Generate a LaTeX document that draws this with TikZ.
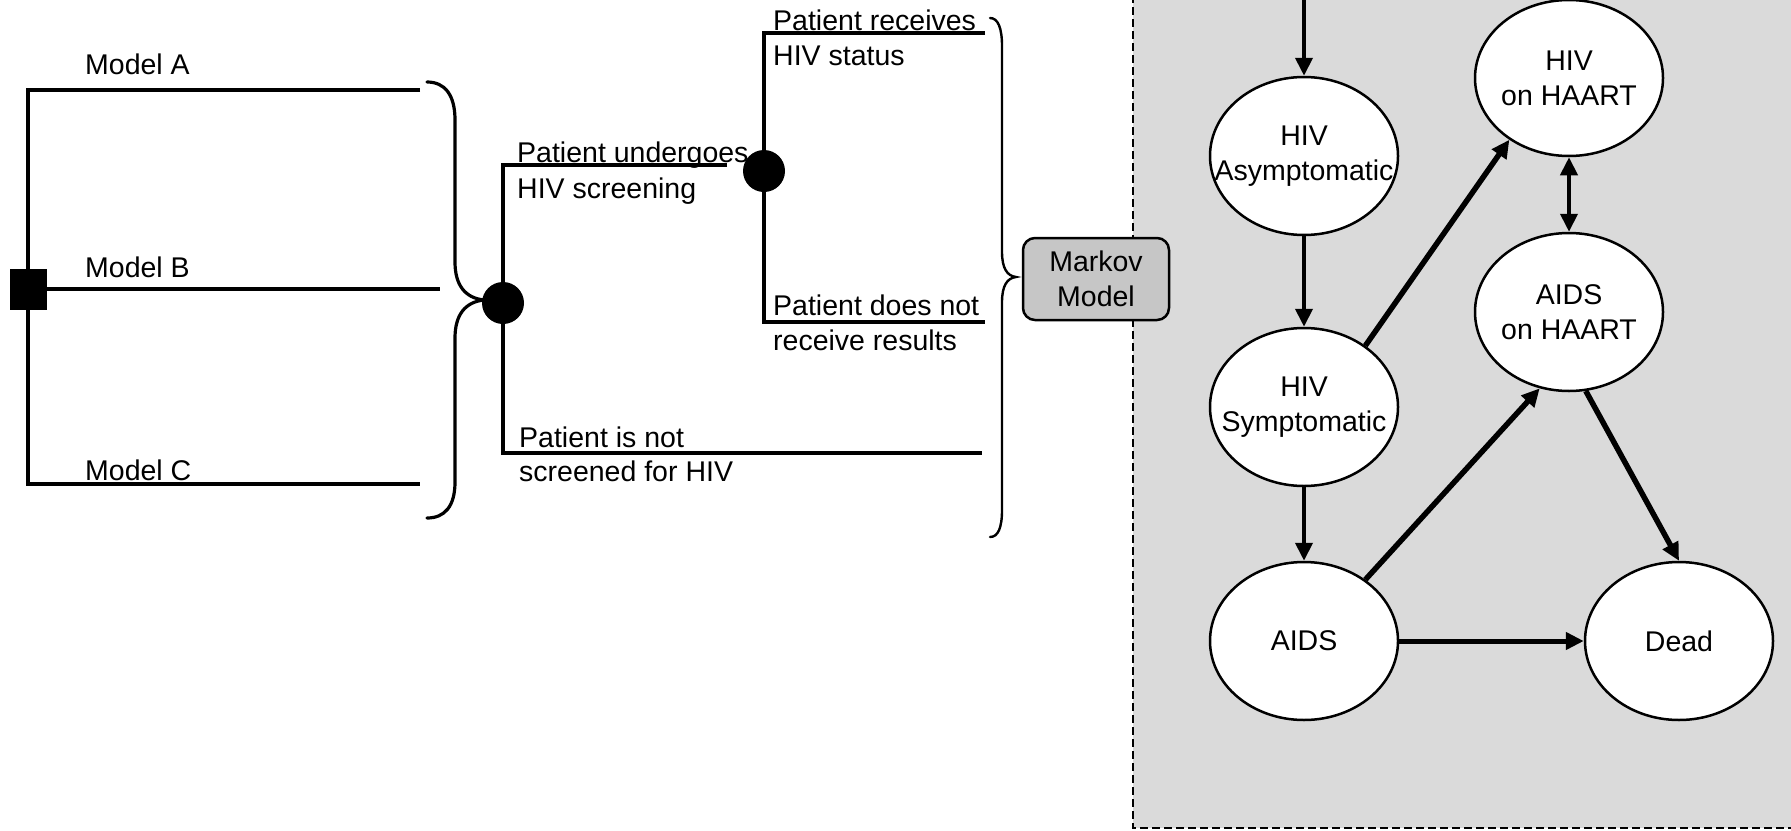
\documentclass[tikz,border=0pt]{standalone}
\usepackage{fontspec}
\setmainfont{Liberation Sans}
\usetikzlibrary{shapes.geometric,arrows.meta}
\definecolor{bggray}{RGB}{218,218,218}
\definecolor{boxgray}{RGB}{198,198,198}
\begin{document}
\begin{tikzpicture}[x=1pt,y=-1pt,
  txt/.style={font=\fontsize{28.5}{35}\selectfont, inner sep=0pt, anchor=base west},
  ctxt/.style={font=\fontsize{28.5}{35}\selectfont, inner sep=0pt, align=center},
  treeline/.style={line width=4pt},
  chance/.style={circle, fill=black, minimum size=42pt, inner sep=0pt},
  decision/.style={rectangle, fill=black, minimum width=37pt, minimum height=41pt, inner sep=0pt},
  bracea/.style={line width=3.2pt, line cap=round},
  braceb/.style={line width=2.4pt, line cap=round},
  mstate/.style={ellipse, draw, fill=white, line width=2.5pt, minimum width=188pt, minimum height=158pt, inner sep=0pt},
  markovbox/.style={rectangle, rounded corners=12pt, draw, fill=boxgray, line width=2.5pt, minimum width=146pt, minimum height=82pt, inner sep=0pt, align=center, font=\fontsize{28.5}{35}\selectfont},
  arr/.style={line width=4pt, -{Triangle[length=18pt,width=17pt]}},
  darr/.style={line width=4pt, {Triangle[length=18pt,width=17pt]}-{Triangle[length=18pt,width=17pt]}},
  boxline/.style={line width=2pt, dash pattern=on 8pt off 4pt}
]
\useasboundingbox (0,0) rectangle (1791,830);

% Markov region background
\fill[bggray] (1133,0) rectangle (1791,828);
\draw[boxline] (1133,-5) -- (1133,828) -- (1796,828);

% ---------- decision tree ----------
\node[decision] (dec) at (28,289) {};
\node[chance] (c1) at (503,303) {};
\node[chance] (c2) at (764,171) {};

\coordinate (aEnd) at (420,90);
\coordinate (bEnd) at (440,289);
\coordinate (cEnd) at (420,484);
\coordinate (uEnd) at (727,165);
\coordinate (nEnd) at (982,453);
\coordinate (rEnd) at (985,33);
\coordinate (dEnd) at (985,322);

\draw[treeline] (aEnd) -| (dec.center) |- (cEnd);
\draw[treeline] (dec) -- (bEnd);
\draw[treeline] (uEnd) -| (c1.center) |- (nEnd);
\draw[treeline] (rEnd) -| (c2.center) |- (dEnd);

\node[txt] (tA) at (85,74) {Model A};
\node[txt] (tB) at (85,277) {Model B};
\node[txt] (tC) at (85,480) {Model C};
\node[txt] (tU1) at (517,162) {Patient undergoes};
\node[txt] (tU2) at (517,198) {HIV screening};
\node[txt] (tR1) at (773,30) {Patient receives};
\node[txt] (tR2) at (773,65) {HIV status};
\node[txt] (tD1) at (773,315) {Patient does not};
\node[txt] (tD2) at (773,350) {receive results};
\node[txt] (tN1) at (519,447) {Patient is not};
\node[txt] (tN2) at (519,481) {screened for HIV};

% braces
\draw[bracea] (427,82) .. controls (445,82) and (455,95) .. (455,120) -- (455,262)
  .. controls (455,285) and (465,298) .. (484,300)
  .. controls (465,302) and (455,315) .. (455,338) -- (455,482)
  .. controls (455,506) and (445,518) .. (427,518);
\draw[braceb] (990,18) .. controls (998,18) and (1002,28) .. (1002,46) -- (1002,252)
  .. controls (1002,268) and (1007,276) .. (1016,277)
  .. controls (1007,278) and (1002,286) .. (1002,302) -- (1002,510)
  .. controls (1002,528) and (998,537) .. (990,537);

\node[markovbox] (markov) at (1096,279) {Markov\\Model};

% ---------- Markov model ----------
\node[mstate] (asym) at (1304,156) {};
\node[mstate] (sym) at (1304,407) {};
\node[mstate] (aids) at (1304,641) {};
\node[mstate, minimum height=156pt] (hivh) at (1569,78) {};
\node[mstate] (aidsh) at (1569,312) {};
\node[mstate] (dead) at (1679,641) {};

\node[ctxt] (asymT) at (asym) {HIV\\Asymptomatic};
\node[ctxt] (symT) at (sym) {HIV\\Symptomatic};
\node[ctxt] (aidsT) at (aids) {AIDS};
\node[ctxt] (hivhT) at (hivh) {HIV\\on HAART};
\node[ctxt] (aidshT) at (aidsh) {AIDS\\on HAART};
\node[ctxt] (deadT) at (dead) {Dead};

\coordinate (topIn) at (1304,-2);
\draw[arr] (topIn) -- (asym);
\draw[arr] (asym) -- (sym);
\draw[arr] (sym) -- (aids);
\draw[arr, line width=5pt] (aids) -- (dead);
\draw[arr, line width=5.5pt] (sym.45) -- (hivh.226);
\draw[arr, line width=5.5pt] (aids.45) -- (aidsh.249);
\draw[arr, line width=5.5pt] (aidsh.282) -- (dead.north);
\draw[darr] (hivh) -- (aidsh);
\end{tikzpicture}
\end{document}
